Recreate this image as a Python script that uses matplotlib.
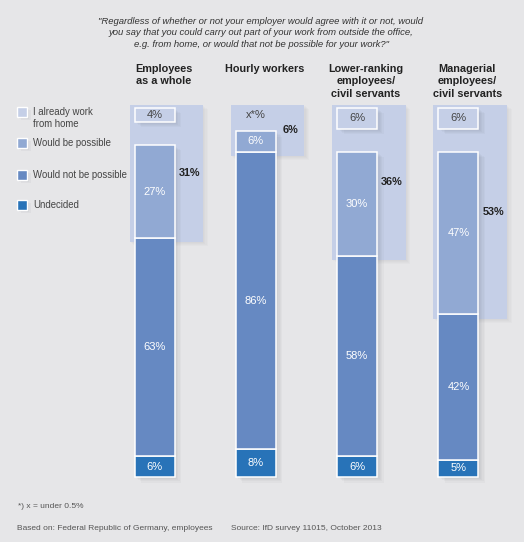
import matplotlib as mpl
mpl.use('Agg')
import matplotlib.pyplot as plt
from matplotlib.patches import FancyBboxPatch, Rectangle
from matplotlib.transforms import offset_copy

plt.rcParams['font.family'] = ['Liberation Sans', 'DejaVu Sans']

# data (percent)
groups = ['Employees\nas a whole', 'Hourly workers',
          'Lower-ranking\nemployees/\ncivil servants',
          'Managerial\nemployees/\ncivil servants']
series = ['I already work\nfrom home', 'Would be possible',
          'Would not be possible', 'Undecided']
already_home = [4, 0, 6, 6]
possible = [27, 6, 30, 47]
not_possible = [63, 86, 58, 42]
undecided = [6, 8, 6, 5]
totals = [31, 6, 36, 53]
home_labels = ['4%', 'x*%', '6%', '6%']

title = ('"Regardless of whether or not your employer would agree with it or not, would\n'
         'you say that you could carry out part of your work from outside the office,\n'
         'e.g. from home, or would that not be possible for your work?"')
footnote = '*) x = under 0.5%'
basis = 'Based on: Federal Republic of Germany, employees'
source = 'Source: IfD survey 11015, October 2013'

c_home = '#c5cfe7'
c_poss = '#91a9d3'
c_not = '#6689c2'
c_und = '#2873b8'
c_bg = '#e6e6e8'
colors = [c_home, c_poss, c_not, c_und]

W, H = 524, 542
fig = plt.figure(figsize=(W / 100, H / 100), dpi=100)
fig.patch.set_facecolor('white')

# grey card with rounded bottom corners
card = FancyBboxPatch((0, -0.2), W / 100, H / 100 + 0.4,
                      boxstyle='round,pad=0,rounding_size=0.06',
                      transform=fig.dpi_scale_trans, facecolor=c_bg,
                      edgecolor='none', zorder=-5)
fig.patches.append(card)

# axes mapped to pixels: x unit = 101.3 px, y unit = 1% = 3.46 px
px_x, px_y = 101.3, 3.46
x0_px, y0_px = 154.5, H - 477
ax = fig.add_axes([0, 0, 1, 1])
ax.set_xlim(-x0_px / px_x, (W - x0_px) / px_x)
ax.set_ylim(-y0_px / px_y, (H - y0_px) / px_y)
ax.axis('off')
ax.set_zorder(2)

xs = list(range(len(groups)))
bw = 40 / px_x
gap = 6.65

stack = [u + n + p for u, n, p in zip(undecided, not_possible, possible)]
home_bottom = [s + gap for s in stack]
boundary = [u + n for u, n in zip(undecided, not_possible)]

# light panels behind "home + possible"
pl = -25 / px_x
pw = 73.5 / px_x
for i, x in enumerate(xs):
    top = home_bottom[i] + already_home[i] + 1.0
    bot = boundary[i] - 1.2
    for k in range(1, 5):
        tr = offset_copy(ax.transData, fig=fig, x=k * 1.2, y=-k * 1.0, units='dots')
        ax.bar(x + pl, top - bot, bottom=bot, width=pw, align='edge',
               color='#7a7f8a', alpha=0.035, transform=tr, zorder=1)
    ax.bar(x + pl, top - bot, bottom=bot, width=pw, align='edge',
           color=c_home, edgecolor='none', zorder=2)
    ax.text(x + 35 / px_x, (top + bot) / 2, f'{totals[i]}%', ha='center',
            va='center', fontsize=7.8, fontweight='bold', color='#222222', zorder=6)

# shadows for bars
for i, x in enumerate(xs):
    for k in range(1, 6):
        tr = offset_copy(ax.transData, fig=fig, x=k * 1.3, y=-k * 1.1, units='dots')
        ax.bar(x, stack[i], width=bw, color='#50555f', alpha=0.04,
               transform=tr, zorder=3)
        if already_home[i] > 0:
            ax.bar(x, already_home[i], bottom=home_bottom[i], width=bw,
                   color='#50555f', alpha=0.04, transform=tr, zorder=3)

# stacked bars
ax.bar(xs, undecided, width=bw, color=c_und, edgecolor='white',
       linewidth=1.1, zorder=4)
ax.bar(xs, not_possible, bottom=undecided, width=bw, color=c_not,
       edgecolor='white', linewidth=1.1, zorder=4)
ax.bar(xs, possible, bottom=boundary, width=bw, color=c_poss,
       edgecolor='white', linewidth=1.1, zorder=4)
ax.bar(xs, already_home, bottom=home_bottom, width=bw, color=c_home,
       edgecolor=['white' if h > 0 else 'none' for h in already_home],
       linewidth=1.1, zorder=4)

for i, x in enumerate(xs):
    ax.text(x, undecided[i] / 2, f'{undecided[i]}%', ha='center', va='center',
            fontsize=8, color='white', zorder=6)
    ax.text(x, undecided[i] + not_possible[i] / 2, f'{not_possible[i]}%',
            ha='center', va='center', fontsize=8, color='white', zorder=6)
    ax.text(x, boundary[i] + possible[i] / 2, f'{possible[i]}%', ha='center',
            va='center', fontsize=8, color='white', zorder=6)
    hy = home_bottom[i] + already_home[i] / 2 if already_home[i] > 0 else stack[i] + gap * 0.7
    ax.text(x, hy, home_labels[i], ha='center', va='center', fontsize=8,
            color='#444444', zorder=6)
    ax.text(x + 9 / px_x, 119.4, groups[i], ha='center', va='top', fontsize=7.8,
            fontweight='bold', color='#222222', linespacing=1.3, zorder=6)

# title
fig.text(261 / W, 1 - 16.5 / H, title, ha='center', va='top', fontsize=6.8,
         style='italic', color='#333333', linespacing=1.38)

# legend drawn by hand
leg_y = [112, 143, 175, 205]
for name, col, yy in zip(series, colors, leg_y):
    for k in range(1, 4):
        fig.patches.append(Rectangle(((17 + k * 1.2) / W, 1 - (yy + 5 + k * 1.1) / H),
                                     10 / W, 10 / H, transform=fig.transFigure,
                                     facecolor='#50555f', alpha=0.05, edgecolor='none'))
    fig.patches.append(Rectangle((17 / W, 1 - (yy + 5) / H), 10 / W, 10 / H,
                                 transform=fig.transFigure, facecolor=col,
                                 edgecolor='white', linewidth=1.0))
    ty = yy if '\n' not in name else yy - 5
    fig.text(33 / W, 1 - ty / H, name, ha='left',
             va='center' if '\n' not in name else 'top', fontsize=6.9,
             color='#444444', linespacing=1.3)

# footnotes
fig.text(18 / W, 1 - 507 / H, footnote, ha='left', va='center', fontsize=6.0,
         color='#555555')
fig.text(17 / W, 1 - 528 / H, basis, ha='left', va='center', fontsize=6.0,
         color='#555555')
fig.text(231 / W, 1 - 528 / H, source, ha='left', va='center', fontsize=6.0,
         color='#555555')

fig.savefig('out.png', dpi=100, facecolor=fig.get_facecolor())
